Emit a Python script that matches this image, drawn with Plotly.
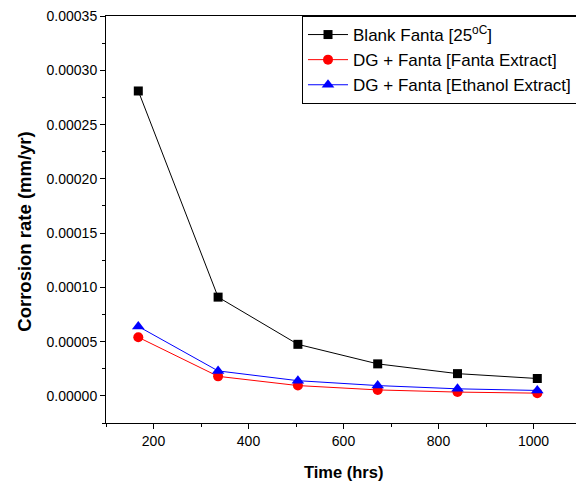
import plotly.graph_objects as go

time_hrs = [168, 336, 504, 672, 840, 1008]
blank_fanta = [0.000281, 0.0000910, 0.0000475, 0.0000295, 0.0000205, 0.0000160]
fanta_extract = [0.0000540, 0.0000180, 0.0000095, 0.0000055, 0.0000035, 0.0000025]
ethanol_extract = [0.0000640, 0.0000230, 0.0000140, 0.0000095, 0.0000065, 0.0000050]
y_ticks = [0.0, 0.00005, 0.0001, 0.00015, 0.0002, 0.00025, 0.0003, 0.00035]
y_tick_labels = ["0.00000", "0.00005", "0.00010", "0.00015", "0.00020", "0.00025", "0.00030", "0.00035"]
x_ticks = [200, 400, 600, 800, 1000]

names = ["Blank Fanta [25<sup>oC</sup>]", "DG + Fanta [Fanta Extract]", "DG + Fanta [Ethanol Extract]"]
colors = ["black", "red", "blue"]
symbols = ["square", "circle", "triangle-up"]
sizes = [9, 10, 11]

FONT = "Liberation Sans, Arial, sans-serif"

fig = go.Figure()
for y, n, c, s, sz in zip([blank_fanta, fanta_extract, ethanol_extract], names, colors, symbols, sizes):
    fig.add_trace(go.Scatter(x=time_hrs, y=y, name=n, mode="lines+markers",
                             line=dict(color=c, width=1),
                             marker=dict(symbol=s, size=sz, color=c)))

axis_common = dict(showline=True, linecolor="black", linewidth=1, mirror=True,
                   ticks="outside", ticklen=5, tickwidth=1, tickcolor="black",
                   showgrid=False, zeroline=False, automargin=False,
                   tickfont=dict(family=FONT, size=14, color="black"))

fig.update_xaxes(range=[100, 1100], tickvals=x_ticks,
                 minor=dict(dtick=100, ticks="outside", ticklen=3, tickcolor="black", showgrid=False),
                 **axis_common)
fig.update_yaxes(range=[-0.000025, 0.0003501], tickvals=y_ticks, ticktext=y_tick_labels,
                 minor=dict(dtick=0.000025, ticks="outside", ticklen=3, tickcolor="black", showgrid=False),
                 **axis_common)

fig.add_annotation(text="<b>Time (hrs)</b>", xref="paper", yref="paper", x=0.5, y=-0.1216,
                   xanchor="center", yanchor="middle", showarrow=False,
                   font=dict(family=FONT, size=16.5, color="black"))
fig.add_annotation(text="<b>Corrosion rate (mm/yr)</b>", xref="paper", yref="paper", x=-0.1705, y=0.47,
                   xanchor="center", yanchor="middle", showarrow=False, textangle=-90,
                   font=dict(family=FONT, size=18.5, color="black"))

# The page body has an 8px default margin, so the figure is sized to fit the 584x486 window
fig.update_layout(width=576, height=478, plot_bgcolor="white", paper_bgcolor="white",
                  margin=dict(l=98, r=3, t=8, b=63),
                  showlegend=True,
                  legend=dict(x=0.9916, y=1, xanchor="right", yanchor="top",
                              bordercolor="black", borderwidth=1, bgcolor="white",
                              font=dict(family=FONT, size=17, color="black"),
                              itemwidth=40, tracegroupgap=0))

fig.write_html("out.html")
